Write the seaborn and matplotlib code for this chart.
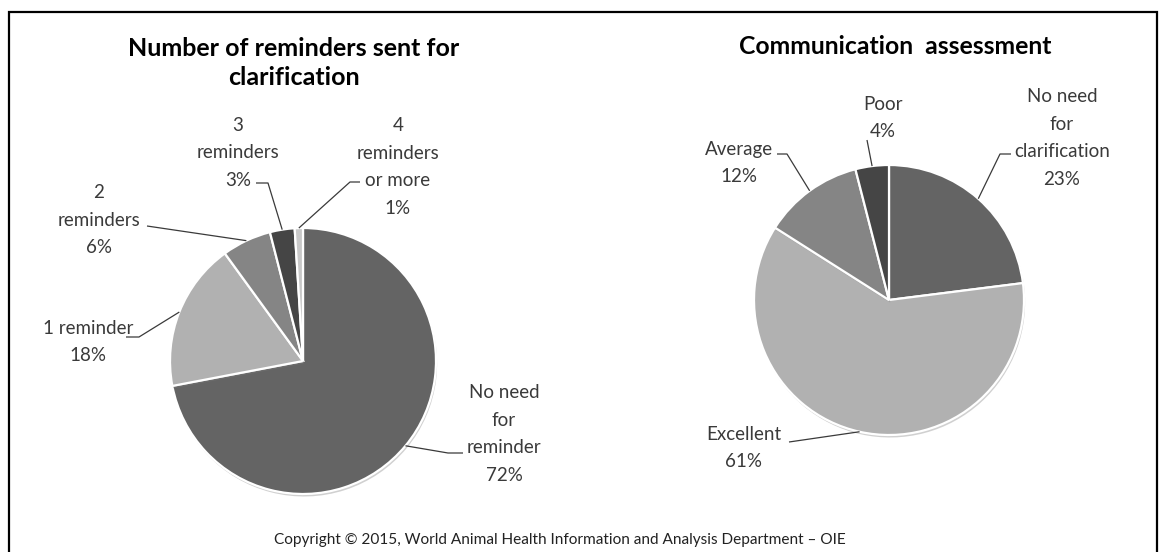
import numpy as np
import matplotlib
matplotlib.use("Agg")
import matplotlib.pyplot as plt
import matplotlib.patheffects as pe
from matplotlib.patches import Rectangle
import seaborn as sns

# ---------------- data ----------------
left_title = "Number of reminders sent for\nclarification"
left_labels = ["No need\nfor\nreminder", "1 reminder", "2\nreminders", "3\nreminders", "4\nreminders\nor more"]
left_values = [72, 18, 6, 3, 1]
left_colors = ["#646464", "#b1b1b1", "#858585", "#454545", "#c9c9c9"]

right_title = "Communication  assessment"
right_labels = ["No need\nfor\nclarification", "Excellent", "Average", "Poor"]
right_values = [23, 61, 12, 4]
right_colors = ["#646464", "#b1b1b1", "#858585", "#454545"]

copyright_text = "Copyright \u00a9 2015, World Animal Health Information and Analysis Department \u2013 OIE"

# ---------------- style ----------------
sns.set_theme(style="white")
plt.rcParams["font.family"] = ["Lato", "DejaVu Sans"]

W, H = 1165, 552
fig = plt.figure(figsize=(W / 100, H / 100), dpi=100)
ax = fig.add_axes([0, 0, 1, 1])


def Y(py):
    return H - py


LABEL_COLOR = "#3a3a3a"
LINE_COLOR = "#3a3a3a"
FS = 13.5


def draw_pie(values, colors, cx, cy, r):
    wedges, _ = ax.pie(values, colors=colors, startangle=90, counterclock=False,
                       center=(cx, Y(cy)), radius=r,
                       wedgeprops=dict(edgecolor="white", linewidth=1.6))
    for w in wedges:
        w.set_path_effects([pe.SimplePatchShadow(offset=(0.8, -1.8), shadow_rgbFace="#7a7a7a", alpha=0.35),
                            pe.Normal()])
    # anchor points on circle at each slice's mid angle
    cum = np.cumsum([0] + list(values)) / float(sum(values))
    anchors = []
    for i in range(len(values)):
        mid = 90 - 360 * (cum[i] + cum[i + 1]) / 2
        a = np.deg2rad(mid)
        anchors.append((cx + r * np.cos(a), Y(cy) + r * np.sin(a)))
    return anchors


def label(text, pct, x, y):
    ax.text(x, Y(y), f"{text}\n{pct}%", ha="center", va="center", fontsize=FS,
            color=LABEL_COLOR, linespacing=1.74)


def leader(points_px, anchor):
    xs = [p[0] for p in points_px] + [anchor[0]]
    ys = [Y(p[1]) for p in points_px] + [anchor[1]]
    ax.plot(xs, ys, color=LINE_COLOR, lw=0.9, solid_capstyle="butt")


# ---------------- left pie ----------------
la = draw_pie(left_values, left_colors, 303, 361, 133)
left_text_pos = [(504, 434), (88, 342), (99, 220), (238, 153), (398, 167)]
for lab, v, (x, y) in zip(left_labels, left_values, left_text_pos):
    label(lab, v, x, y)
leader([(463, 453), (448, 453)], la[0])
leader([(126, 337), (139, 337)], la[1])
leader([(147, 226)], la[2])
leader([(256, 183), (268, 183)], la[3])
leader([(360, 182), (350, 182)], la[4])

ax.text(294, Y(63), left_title, ha="center", va="center", fontsize=18,
        fontweight="bold", color="black", linespacing=1.3)

# ---------------- right pie ----------------
ra = draw_pie(right_values, right_colors, 889, 300, 135)
right_text_pos = [(1062, 138), (744, 448), (739, 163), (883, 118)]
for lab, v, (x, y) in zip(right_labels, right_values, right_text_pos):
    label(lab, v, x, y)
leader([(1011, 154), (1000, 154)], ra[0])
leader([(789, 442)], ra[1])
leader([(777, 154), (787, 154)], ra[2])
leader([(867, 140)], ra[3])

ax.text(895, Y(47), right_title, ha="center", va="center", fontsize=17.8,
        fontweight="bold", color="black")

# ---------------- footer & frame ----------------
ax.text(560, Y(540), copyright_text, ha="center", va="center", fontsize=11.1,
        color="#222222")

ax.set_xlim(0, W)
ax.set_ylim(0, H)
ax.set_aspect("auto")
ax.axis("off")

fig.patches.append(Rectangle((9 / W, -0.05), (1157 - 9) / W, (H - 12) / H + 0.05,
                             transform=fig.transFigure, fill=False,
                             edgecolor="black", linewidth=1.6, zorder=10))

fig.savefig("out.png", dpi=100, facecolor="white")
